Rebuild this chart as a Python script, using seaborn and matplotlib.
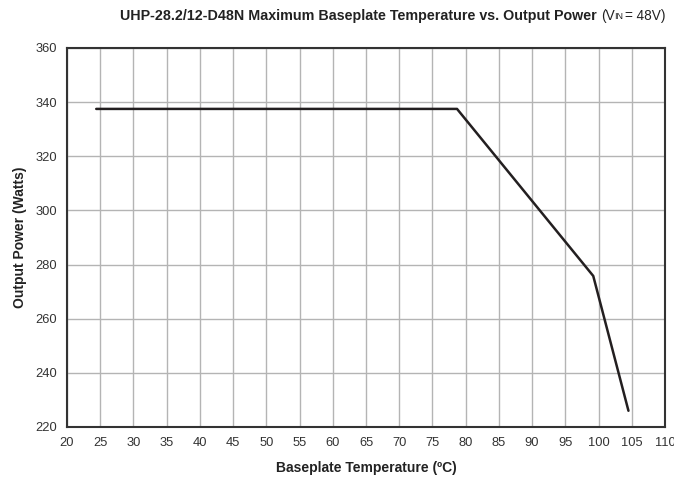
"""Maximum baseplate temperature vs. output power derating curve."""

import matplotlib
matplotlib.use("Agg")
import matplotlib.pyplot as plt
import pandas as pd
import seaborn as sns

# Derating curve
baseplate_temp_c = [24.4, 78.7, 99.2, 104.5]
output_power_w = [337.5, 337.5, 275.8, 226.0]

x_ticks = list(range(20, 111, 5))
y_ticks = list(range(220, 361, 20))

sns.set_theme(style="white")
plt.rcParams["font.family"] = ["Liberation Sans", "DejaVu Sans"]

df = pd.DataFrame({"temp": baseplate_temp_c, "power": output_power_w})

fig = plt.figure(figsize=(6.74, 4.83), dpi=100)
ax = fig.add_axes([67 / 674, 56 / 483, 598 / 674, 379 / 483])

sns.lineplot(data=df, x="temp", y="power", color="#231f20", linewidth=1.8,
             sort=False, ax=ax)

ax.set_xlim(20, 110)
ax.set_ylim(220, 360)
ax.set_xticks(x_ticks)
ax.set_yticks(y_ticks)
ax.tick_params(axis="both", length=0, pad=7, labelsize=9.3, labelcolor="#333333")
ax.grid(True, color="#b4b4b4", linewidth=1.0)
ax.set_axisbelow(True)
for spine in ax.spines.values():
    spine.set_visible(True)
    spine.set_color("#333333")
    spine.set_linewidth(1.5)

ax.set_xlabel("Baseplate Temperature (ºC)", fontsize=10, fontweight="bold",
              color="#222222", labelpad=9)
ax.set_ylabel("Output Power (Watts)", fontsize=10, fontweight="bold",
              color="#222222", labelpad=6)

# Title: bold main part, regular "(VIN = 48V)" with small IN
fig.text(597 / 674, 1 - 16 / 483,
         "UHP-28.2/12-D48N Maximum Baseplate Temperature vs. Output Power",
         ha="right", va="center", fontsize=10.3, fontweight="bold", color="#222222")
fig.text(601 / 674, 1 - 16 / 483, "(V", ha="left", va="center",
         fontsize=9.8, color="#222222")
fig.text(614 / 674, 1 - 16.5 / 483, "IN", ha="left", va="center",
         fontsize=6.5, color="#222222")
fig.text(625 / 674, 1 - 16 / 483, "= 48V)", ha="left", va="center",
         fontsize=9.8, color="#222222")

fig.savefig("out.png", dpi=100)
plt.close(fig)
